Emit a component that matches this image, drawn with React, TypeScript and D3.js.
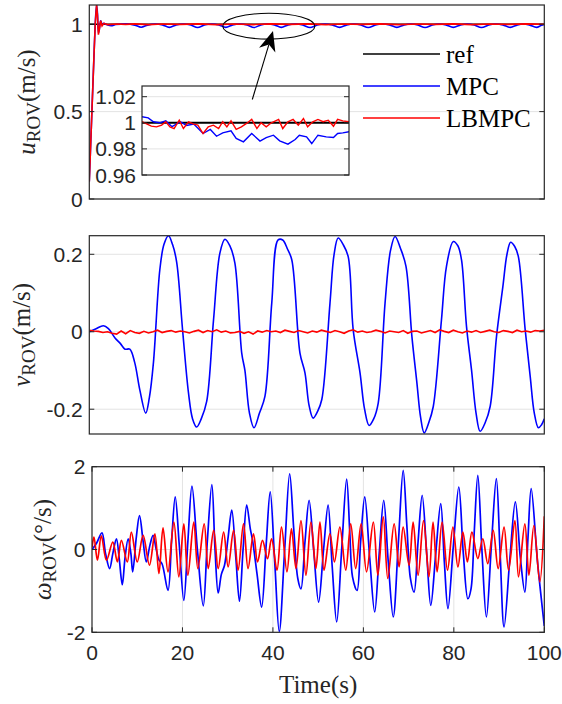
import React from 'react';
import * as d3 from 'd3';

type P = [number, number];

// ── data ────────────────────────────────────────────────
const timeTicks = [0, 20, 40, 60, 80, 100];
const uTicks = [0, 0.5, 1];
const uTickLabels = ['0', '0.5', '1'];
const vTicks = [-0.2, 0, 0.2];
const vTickLabels = ['-0.2', '0', '0.2'];
const wTicks = [-2, 0, 2];
const wTickLabels = ['-2', '0', '2'];
const insetTicks = [0.96, 0.98, 1, 1.02];
const insetTickLabels = ['0.96', '0.98', '1', '1.02'];
const legendNames = ['ref', 'MPC', 'LBMPC'];
const legendColors = ['#000000', '#0000ff', '#ff0000'];

// surge speed u (m/s)
const uRef: P[] = [[0, 1], [100, 1]];
const uMpc: P[] = [
  [0, 0.1], [0.5, 0.45], [1.0, 0.8], [1.3, 1.0], [1.6, 1.11], [1.8, 1.06], [2.0, 0.95], [2.2, 0.97],
  [2.5, 1.02], [2.8, 1.0], [3.2, 1.005], [3.8, 0.998], [4.8, 0.991], [5.8, 0.998], [8.1, 1.002],
  [10.0, 0.995], [11.4, 0.983], [12.8, 0.995], [14.5, 1.001], [16.1, 0.996], [17.6, 0.982], [19.1, 0.996],
  [20.7, 1.001], [22.3, 0.996], [23.8, 0.981], [25.3, 0.996], [26.9, 1.001], [28.5, 0.996], [30.0, 0.982],
  [31.5, 0.996], [33.1, 1.001], [34.7, 0.996], [36.2, 0.981], [37.7, 0.996], [39.2, 1.001], [40.7, 0.996],
  [42.2, 0.982], [43.7, 0.996], [45.3, 1.001], [46.9, 0.996], [48.5, 0.981], [50.1, 0.996], [51.8, 1.001],
  [53.4, 0.996], [55.0, 0.982], [56.6, 0.996], [58.1, 1.001], [59.7, 0.996], [61.3, 0.981], [62.9, 0.996],
  [64.4, 1.001], [66.0, 0.996], [67.6, 0.982], [69.2, 0.996], [70.7, 1.001], [72.2, 0.996], [73.8, 0.981],
  [75.4, 0.996], [76.9, 1.001], [78.4, 0.996], [80.0, 0.982], [81.6, 0.996], [83.1, 1.001], [84.6, 0.996],
  [86.2, 0.981], [87.8, 0.996], [89.3, 1.001], [90.9, 0.996], [92.5, 0.982], [94.1, 0.996], [95.4, 1.001],
  [96.7, 0.996], [98.3, 0.982], [99.4, 0.994], [100, 0.998],
];
const uLbmpc: P[] = [
  [0, 0.1], [0.5, 0.45], [1.0, 0.8], [1.3, 1.0], [1.6, 1.11], [1.8, 1.05], [2.0, 0.94], [2.2, 0.97],
  [2.5, 1.02], [2.8, 0.99], [3.2, 1.005], [4, 0.998], [6, 1.001], [8, 0.999], [10, 1.002], [13, 0.998],
  [16, 1.001], [20, 0.999], [24, 1.002], [28, 0.998], [32, 1.001], [36, 0.998], [40, 1.002], [44, 0.999],
  [48, 1.002], [52, 0.998], [56, 1.001], [60, 0.999], [64, 1.002], [68, 0.998], [72, 1.001], [76, 0.999],
  [80, 1.002], [84, 0.998], [88, 1.001], [92, 0.999], [96, 1.002], [100, 1.0],
];

// inset (30–50 s)
const insetMpc: P[] = [
  [30.0, 1.0046], [30.6, 1.0038], [31.1, 1.0008], [31.7, 1.0], [32.3, 1.0015], [32.9, 0.997], [33.7, 1.0008],
  [34.3, 0.998], [35.0, 0.999], [35.9, 0.9918], [36.6, 0.9949], [37.2, 0.9897], [37.8, 0.9923], [38.6, 0.9938],
  [39.1, 0.988], [39.8, 0.9854], [40.6, 0.9918], [41.4, 0.986], [42.0, 0.9887], [42.7, 0.9905], [43.3, 0.9862],
  [44.1, 0.9836], [44.8, 0.9872], [45.2, 0.9905], [45.9, 0.9892], [46.4, 0.9841], [47.0, 0.9905], [47.8, 0.9892],
  [48.5, 0.9887], [48.9, 0.9918], [49.4, 0.9923], [50.0, 0.9931],
];
const insetLbmpc: P[] = [
  [30.0, 1.0008], [30.5, 0.999], [30.9, 0.9974], [31.4, 0.9969], [31.9, 0.9982], [32.3, 1.0008], [32.7, 0.9969],
  [33.1, 0.9956], [33.6, 1.002], [34.0, 0.9956], [34.5, 1.0008], [35.0, 0.999], [35.4, 0.9982], [35.9, 0.9918],
  [36.4, 0.9969], [36.9, 0.9982], [37.4, 0.9956], [37.8, 1.0008], [38.2, 0.9969], [38.6, 1.0015], [39.1, 0.9949],
  [39.6, 0.9969], [40.1, 0.9995], [40.6, 1.0026], [41.1, 0.9956], [41.5, 1.0], [42.0, 0.9969], [42.5, 1.0],
  [43.2, 1.0026], [43.6, 0.9956], [44.1, 1.0008], [44.6, 1.0026], [45.1, 0.9982], [45.6, 1.0033], [46.0, 0.9969],
  [46.5, 1.0008], [47.0, 1.0026], [47.5, 1.0008], [48.0, 1.002], [48.5, 0.9974], [48.9, 1.0026], [49.4, 1.0015],
  [50.0, 1.0008],
];

// sway speed v (m/s)
const vMpc: P[] = [
  [0, 0.0], [1.5, 0.008], [3.1, 0.0155], [4.2, 0.008], [5.65, -0.016], [6.8, -0.03], [7.85, -0.045], [8.9, -0.045],
  [9.97, -0.079], [11.1, -0.15], [12.4, -0.21], [13.2, -0.17], [14.1, -0.079], [15.5, 0.16], [16.4, 0.225],
  [17.4, 0.248], [18.3, 0.225], [19.2, 0.18], [20.5, 0.005], [21.8, -0.158], [22.7, -0.225], [23.6, -0.246],
  [24.6, -0.225], [25.8, -0.18], [27.3, 0.03], [28.7, 0.203], [29.8, 0.239], [30.9, 0.222], [32.0, 0.177],
  [33.5, -0.055], [34.2, -0.1], [35.2, -0.21], [36.2, -0.248], [37.4, -0.21], [38.6, -0.167], [40.1, 0.074],
  [41.5, 0.237], [42.5, 0.237], [43.5, 0.215], [44.5, 0.186], [46.3, -0.055], [47.4, -0.106], [48.3, -0.19],
  [49.2, -0.223], [50.2, -0.205], [51.1, -0.175], [52.9, 0.074], [53.8, 0.2], [54.7, 0.242], [55.8, 0.225],
  [56.9, 0.194], [58.0, 0.005], [59.5, -0.106], [60.5, -0.2], [61.5, -0.242], [62.5, -0.225], [63.5, -0.184],
  [65.0, 0.074], [66.2, 0.21], [67.2, 0.246], [68.4, 0.215], [69.6, 0.169], [70.9, -0.012], [72.0, -0.132],
  [72.8, -0.22], [73.6, -0.261], [74.6, -0.235], [75.6, -0.193], [77.4, 0.031], [78.5, 0.169], [80.0, 0.233],
  [81.0, 0.222], [81.8, 0.186], [82.9, 0.014], [84.0, -0.098], [85.0, -0.21], [85.9, -0.257], [87.0, -0.235],
  [88.1, -0.193], [89.5, -0.012], [90.9, 0.117], [91.8, 0.2], [92.6, 0.231], [93.5, 0.22], [94.3, 0.194],
  [95.8, 0.005], [96.9, -0.115], [97.8, -0.21], [98.7, -0.248], [99.4, -0.24], [100, -0.225],
];
// LBMPC sway, one sample per second
const vLbmpc = [
  0.004, 0.002, 0.001, -0.002, 0.000, -0.004, -0.006, 0.002, -0.005, 0.003,
  -0.002, -0.004, 0.001, -0.003, 0.000, 0.004, -0.002, 0.001, 0.003, -0.001,
  0.002, 0.000, -0.003, 0.001, 0.004, -0.002, 0.003, 0.000, 0.005, -0.001,
  0.002, -0.003, -0.002, 0.001, -0.004, 0.000, -0.006, 0.002, -0.001, 0.003,
  0.000, 0.002, -0.002, 0.004, 0.001, -0.002, 0.003, 0.000, -0.003, 0.002,
  -0.001, 0.004, 0.001, -0.002, 0.003, 0.000, -0.004, 0.002, 0.005, -0.001,
  0.002, -0.002, 0.000, 0.004, 0.001, -0.003, 0.002, 0.000, -0.002, 0.003,
  -0.004, 0.001, 0.002, -0.003, 0.000, 0.003, -0.002, 0.005, 0.001, -0.002,
  0.004, 0.000, -0.003, 0.002, -0.001, 0.003, -0.002, 0.001, 0.004, 0.000,
  -0.002, 0.003, 0.001, -0.002, 0.004, 0.000, 0.002, -0.001, 0.003, 0.002,
  0.004,
];

// yaw rate ω (°/s)
const wMpc: P[] = [
  [0, 0.0], [1.0, 0.15], [2.2, 0.4], [3.0, -0.1], [3.9, -0.46], [4.6, -0.1], [5.4, 0.26], [6.0, -0.2], [6.7, -0.85],
  [7.3, -0.2], [8.0, 0.26], [8.6, -0.1], [9.0, -0.54], [9.8, 0.3], [10.5, 0.82], [11.3, 0.2], [12.0, -0.3],
  [12.8, 0.1], [13.5, 0.34], [14.2, 0.0], [14.8, -0.25], [15.5, -0.35], [16.8, -0.99], [17.6, 0.2], [18.4, 1.27],
  [19.3, 0.1], [20.3, -1.23], [21.2, 0.2], [22.1, 1.53], [23.3, 0.0], [24.6, -1.36], [25.5, 0.2], [26.5, 1.57],
  [27.2, 0.0], [27.9, -1.05], [28.6, -0.6], [29.3, -0.38], [30.1, 0.3], [30.9, 0.95], [31.8, -0.2], [32.6, -1.25],
  [33.4, 0.0], [34.2, 1.07], [35.0, 0.5], [35.5, 0.22], [36.5, -0.6], [37.5, -1.39], [38.5, 0.1], [39.4, 1.39],
  [40.4, -0.3], [41.4, -1.98], [42.6, 0.0], [43.7, 1.83], [44.6, 0.5], [45.5, -0.7], [46.2, -0.95], [47.1, 0.2],
  [48.0, 1.19], [49.0, 0.0], [50.1, -1.27], [51.2, 0.0], [52.2, 1.07], [53.1, -0.4], [54.1, -1.75], [55.2, 0.0],
  [56.3, 1.7], [57.0, 0.4], [57.6, -0.66], [58.6, -0.99], [59.4, 0.2], [60.3, 1.27], [61.4, -0.2], [62.5, -1.51],
  [63.5, -0.1], [64.5, 1.19], [65.5, -0.3], [66.6, -1.63], [67.7, 0.1], [68.8, 1.91], [69.6, 0.6], [70.4, -0.7],
  [71.2, -1.03], [72.1, 0.2], [73.0, 1.31], [74.0, -0.1], [74.9, -1.35], [76.0, -0.1], [77.1, 1.11], [77.9, -0.3],
  [78.7, -1.43], [79.9, 0.1], [81.1, 1.51], [82.1, -0.1], [83.1, -1.19], [83.8, -0.95], [84.5, 0.4], [85.3, 1.79],
  [86.2, 0.0], [87.2, -1.63], [88.3, 0.1], [89.4, 1.71], [90.2, 0.0], [91.1, -1.87], [92.4, -0.2], [93.6, 1.15],
  [94.7, -0.2], [95.7, -1.03], [96.4, 0.3], [97.1, 1.47], [98.5, -0.3], [100, -1.85],
];
const wLbmpc: P[] = [
  [0, 0.05], [0.44, 0.3], [1.2, -0.26], [2.06, 0.33], [3.2, -0.26], [4.6, 0.18], [5.6, -0.3], [6.5, 0.22],
  [7.8, -0.3], [8.7, 0.42], [10.0, -0.3], [11.3, 0.34], [12.7, -0.38], [13.9, 0.38], [14.8, -0.58], [15.7, 0.52],
  [16.8, -0.54], [18.1, 0.66], [19.2, -0.66], [20.3, 0.62], [21.2, -0.62], [22.5, 0.66], [23.4, -0.46],
  [24.8, 0.62], [25.7, -0.46], [26.9, 0.46], [27.9, -0.46], [29.1, 0.42], [30.1, -0.42], [31.3, 0.46],
  [32.3, -0.5], [33.5, 0.62], [34.5, -0.46], [35.7, 0.38], [36.6, -0.3], [37.7, 0.22], [38.8, -0.22],
  [39.7, 0.26], [40.9, -0.5], [41.9, 0.54], [43.1, -0.54], [44.1, 0.5], [45.1, -0.46], [46.2, 0.7], [47.3, -0.62],
  [48.4, 0.66], [49.5, -0.46], [50.4, 0.66], [51.3, -0.5], [52.6, 0.38], [53.6, -0.3], [54.8, 0.54], [56.1, -0.5],
  [57.2, 0.62], [58.3, -0.46], [59.5, 0.62], [60.7, -0.54], [62.2, 0.66], [63.2, -0.62], [64.4, 0.79],
  [65.4, -0.7], [66.8, 0.62], [67.9, -0.42], [68.8, 0.54], [70.1, -0.38], [71.0, 0.66], [72.1, -0.62],
  [73.3, 0.7], [74.5, -0.66], [75.4, 0.66], [76.3, -0.54], [77.4, 0.66], [78.6, -0.5], [79.8, 0.54], [80.9, -0.42],
  [82.0, 0.42], [83.0, -0.3], [84.0, 0.42], [85.3, -0.22], [86.4, 0.26], [87.5, -0.34], [88.7, 0.46], [89.8, -0.46],
  [91.1, 0.54], [92.1, -0.5], [93.5, 0.7], [94.3, -0.66], [95.7, 0.62], [96.6, -0.62], [97.7, 0.58], [99.0, -0.78],
  [100, 0.8],
];

// ── styles ──────────────────────────────────────────────
const AX = '#262626';
const GRID = '#e3e3e3';
const SANS = '"Liberation Sans", Arial, Helvetica, sans-serif';
const SERIF = '"Liberation Serif", "Times New Roman", serif';
const TICK = 5;

type Box = { x0: number; x1: number; y0: number; y1: number };

function Frame({ b, yTicks, yLabels, y, xTicks, x, xGrid, labelRight = 6.5 }: any) {
  return (
    <g>
      {yTicks.map((t: number, i: number) => (
        <g key={'y' + i}>
          <line x1={b.x0} x2={b.x0 + TICK} y1={y(t)} y2={y(t)} stroke={AX} />
          <line x1={b.x1 - TICK} x2={b.x1} y1={y(t)} y2={y(t)} stroke={AX} />
          <text x={b.x0 - labelRight} y={y(t)} textAnchor="end" dominantBaseline="central"
            fontFamily={SANS} fontSize={21} fill={AX}>{yLabels[i]}</text>
        </g>
      ))}
      {xTicks && xTicks.map((t: number, i: number) => (
        <g key={'x' + i}>
          <line x1={x(t)} x2={x(t)} y1={b.y1} y2={b.y1 - TICK} stroke={AX} />
          <line x1={x(t)} x2={x(t)} y1={b.y0} y2={b.y0 + TICK} stroke={AX} />
          <text x={x(t)} y={b.y1 + 28} textAnchor="middle" fontFamily={SANS} fontSize={21} fill={AX}>{t}</text>
        </g>
      ))}
      <rect x={b.x0} y={b.y0} width={b.x1 - b.x0} height={b.y1 - b.y0} fill="none" stroke={AX} strokeWidth={1.2} />
    </g>
  );
}

function Grid({ b, yTicks, y, xGrid, x }: any) {
  return (
    <g>
      {yTicks.map((t: number) => (
        <line key={'gy' + t} x1={b.x0} x2={b.x1} y1={y(t)} y2={y(t)} stroke={GRID} strokeWidth={1} />
      ))}
      {xGrid && xGrid.map((t: number) => (
        <line key={'gx' + t} x1={x(t)} x2={x(t)} y1={b.y0} y2={b.y1} stroke={GRID} strokeWidth={1} />
      ))}
    </g>
  );
}

function YLabel({ x, y, sym, unit }: { x: number; y: number; sym: string; unit: string }) {
  return (
    <text transform={`translate(${x},${y}) rotate(-90)`} textAnchor="middle" fontFamily={SERIF} fontSize={25} fill={AX}>
      <tspan fontStyle="italic">{sym}</tspan>
      <tspan fontSize={19} dy={5}>ROV</tspan>
      <tspan dy={-5}>{unit}</tspan>
    </text>
  );
}

export default function App() {
  const top: Box = { x0: 89.3, x1: 544.3, y0: 5, y1: 199 };
  const mid: Box = { x0: 89.3, x1: 544.3, y0: 235.7, y1: 434 };
  const bot: Box = { x0: 92, x1: 544.3, y0: 466.7, y1: 632.3 };
  const ins: Box = { x0: 142, x1: 349, y0: 86, y1: 175 };

  const xTop = d3.scaleLinear().domain([0, 100]).range([top.x0, top.x1]);
  const yTop = d3.scaleLinear().domain([0, 1.11]).range([top.y1, top.y0]);
  const xMid = d3.scaleLinear().domain([0, 100]).range([mid.x0, mid.x1]);
  const yMid = d3.scaleLinear().domain([-0.264, 0.248]).range([mid.y1, mid.y0]);
  const xBot = d3.scaleLinear().domain([0, 100]).range([bot.x0, bot.x1]);
  const yBot = d3.scaleLinear().domain([-2, 2]).range([bot.y1, bot.y0]);
  const xIns = d3.scaleLinear().domain([30, 50]).range([ins.x0, ins.x1]);
  const yIns = d3.scaleLinear().domain([0.96, 1.0282]).range([ins.y1, ins.y0]);

  const mk = (x: any, y: any, curve: any = d3.curveLinear) =>
    d3.line<P>().x(d => x(d[0])).y(d => y(d[1])).curve(curve);

  const lineTop = mk(xTop, yTop);
  const lineTopS = mk(xTop, yTop, d3.curveMonotoneX);
  const lineMidS = mk(xMid, yMid, d3.curveCatmullRom.alpha(0.5));
  const lineMid = mk(xMid, yMid);
  const lineBotS = mk(xBot, yBot, d3.curveCatmullRom.alpha(0.5));
  const lineIns = mk(xIns, yIns);

  const vLbPts: P[] = vLbmpc.map((v, i) => [i, v]);

  // arrow from inset to ellipse
  const tail = [252.3, 99.5];
  const tip = [273, 31];
  const dx = tip[0] - tail[0], dy = tip[1] - tail[1];
  const len = Math.hypot(dx, dy);
  const ux = dx / len, uy = dy / len, nx = -uy, ny = ux;
  const hl = 20, hw = 8.5;
  const back = [tip[0] - ux * hl, tip[1] - uy * hl];
  const notch = [tip[0] - ux * hl * 0.7, tip[1] - uy * hl * 0.7];
  const head = [
    tip,
    [back[0] + nx * hw, back[1] + ny * hw],
    notch,
    [back[0] - nx * hw, back[1] - ny * hw],
  ].map(p => p.join(',')).join(' ');

  const clip = (id: string, b: Box) => (
    <clipPath id={id}><rect x={b.x0} y={b.y0} width={b.x1 - b.x0} height={b.y1 - b.y0} /></clipPath>
  );

  return (
    <div style={{ position: 'absolute', left: 0, top: 0 }}>
      <svg width={562} height={704} style={{ display: 'block', background: '#fff' }}>
        <defs>
          {clip('cTop', top)}
          {clip('cMid', mid)}
          {clip('cBot', bot)}
          {clip('cIns', ins)}
        </defs>

        {/* ── top: u ── */}
        <Grid b={top} yTicks={uTicks} y={yTop} />
        <g clipPath="url(#cTop)" fill="none">
          <path d={lineTop(uRef) ?? ''} stroke="#000" strokeWidth={1.5} />
          <path d={lineTopS(uMpc) ?? ''} stroke="#0000ff" strokeWidth={1.6} />
          <path d={lineTop(uLbmpc) ?? ''} stroke="#ff0000" strokeWidth={1.6} />
        </g>
        <Frame b={top} yTicks={uTicks} yLabels={uTickLabels} y={yTop} />
        <YLabel x={35} y={(top.y0 + top.y1) / 2} sym="u" unit="(m/s)" />

        {legendNames.map((n, i) => {
          const ly = 54 + i * 32;
          return (
            <g key={n}>
              <line x1={363} x2={440} y1={ly} y2={ly} stroke={legendColors[i]} strokeWidth={1.4} />
              <text x={446} y={ly} dominantBaseline="central" fontFamily={SERIF} fontSize={25} fill="#000">{n}</text>
            </g>
          );
        })}

        {/* inset */}
        <rect x={ins.x0} y={ins.y0} width={ins.x1 - ins.x0} height={ins.y1 - ins.y0} fill="#fff" />
        <Grid b={ins} yTicks={[0.98, 1, 1.02]} y={yIns} />
        <g clipPath="url(#cIns)" fill="none">
          <path d={lineIns([[30, 1], [50, 1]]) ?? ''} stroke="#000" strokeWidth={2} />
          <path d={lineIns(insetMpc) ?? ''} stroke="#0000ff" strokeWidth={1.4} />
          <path d={lineIns(insetLbmpc) ?? ''} stroke="#ff0000" strokeWidth={1.4} />
        </g>
        <Frame b={ins} yTicks={insetTicks} yLabels={insetTickLabels} y={yIns} labelRight={6} />

        {/* annotation */}
        <ellipse cx={268.8} cy={26.2} rx={46} ry={12.9} fill="none" stroke="#000" strokeWidth={1.1} />
        <line x1={tail[0]} y1={tail[1]} x2={notch[0]} y2={notch[1]} stroke="#000" strokeWidth={1.1} />
        <polygon points={head} fill="#000" />

        {/* ── middle: v ── */}
        <Grid b={mid} yTicks={vTicks} y={yMid} />
        <g clipPath="url(#cMid)" fill="none">
          <path d={lineMidS(vMpc) ?? ''} stroke="#0000ff" strokeWidth={1.6} />
          <path d={lineMid(vLbPts) ?? ''} stroke="#ff0000" strokeWidth={1.6} />
        </g>
        <Frame b={mid} yTicks={vTicks} yLabels={vTickLabels} y={yMid} />
        <YLabel x={29.5} y={(mid.y0 + mid.y1) / 2} sym="v" unit="(m/s)" />

        {/* ── bottom: ω ── */}
        <Grid b={bot} yTicks={wTicks} y={yBot} xGrid={[20, 40, 60, 80]} x={xBot} />
        <g clipPath="url(#cBot)" fill="none">
          <path d={lineBotS(wMpc) ?? ''} stroke="#0000ff" strokeWidth={1.7} />
          <path d={lineBotS(wLbmpc) ?? ''} stroke="#ff0000" strokeWidth={1.7} />
        </g>
        <Frame b={bot} yTicks={wTicks} yLabels={wTickLabels} y={yBot} xTicks={timeTicks} x={xBot} />
        <YLabel x={51} y={(bot.y0 + bot.y1) / 2} sym="ω" unit="(°/s)" />
        <text x={(bot.x0 + bot.x1) / 2} y={693} textAnchor="middle" fontFamily={SERIF} fontSize={25} fill={AX}>Time(s)</text>
      </svg>
    </div>
  );
}
